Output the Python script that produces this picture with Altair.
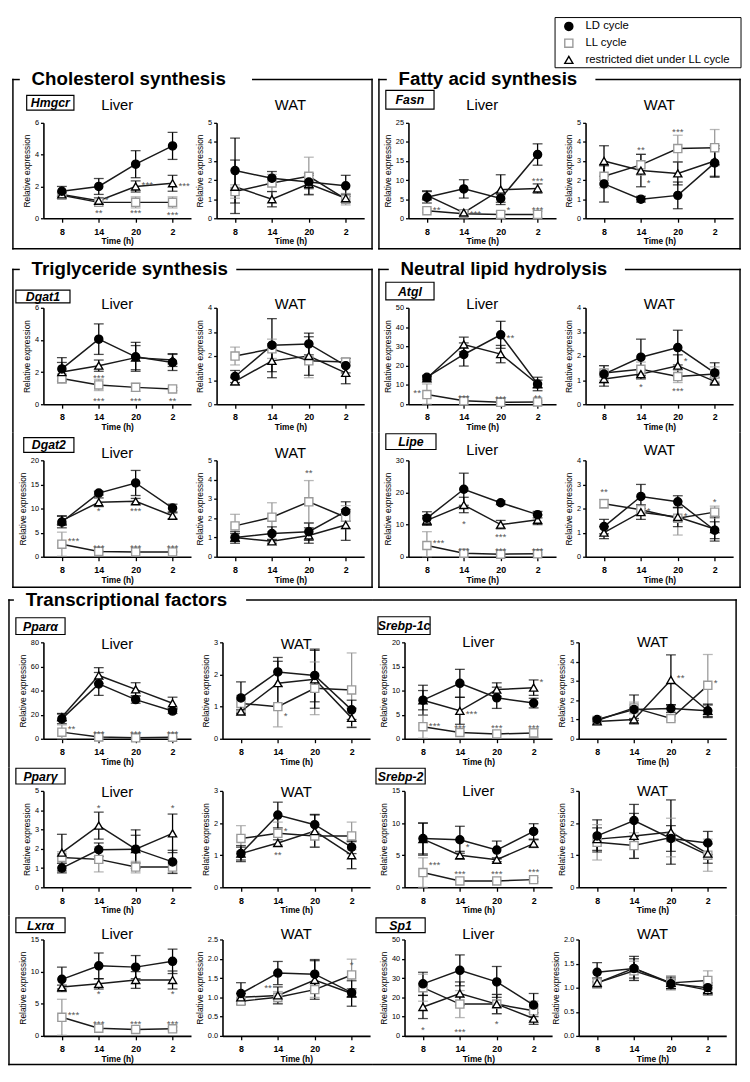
import altair as alt
import pandas as pd

TIMES = ["8", "14", "20", "2"]
SERIES = ["LD cycle", "LL cycle", "restricted diet under LL cycle"]

# ---------------- data (mean and SD per time point) ----------------
HMGCR_LIVER = {"LD": [1.7, 2.0, 3.4, 4.55], "LD_sd": [0.3, 0.5, 0.85, 0.85],
               "LL": [1.45, 1.0, 1.0, 1.0], "LL_sd": [0.1, 0.15, 0.35, 0.35],
               "RD": [1.5, 1.1, 2.0, 2.2], "RD_sd": [0.12, 0.2, 0.35, 0.5]}
HMGCR_LIVER_STARS = [("14", 1.35, "*", "r"), ("14", 0.5, "**", "c"), ("20", 2.25, "***", "r"),
                     ("20", 0.5, "***", "c"), ("2", 2.2, "***", "r"), ("2", 0.4, "***", "c")]
HMGCR_WAT = {"LD": [2.5, 2.1, 1.9, 1.7], "LD_sd": [1.7, 0.35, 0.35, 0.55],
             "LL": [1.4, 1.85, 2.2, 1.0], "LL_sd": [0.35, 0.45, 1.0, 0.3],
             "RD": [1.65, 1.0, 1.8, 1.05], "RD_sd": [1.4, 0.4, 0.55, 0.2]}
HMGCR_WAT_STARS = []

FASN_LIVER = {"LD": [5.5, 7.7, 5.2, 16.7], "LD_sd": [1.5, 2.4, 1.0, 2.8],
              "LL": [2.0, 1.2, 1.0, 1.0], "LL_sd": [0.5, 0.3, 0.8, 0.8],
              "RD": [6.0, 1.5, 7.5, 7.8], "RD_sd": [1.2, 0.3, 3.9, 1.2]}
FASN_LIVER_STARS = [("8", 2.8, "**", "r"), ("14", 1.8, "***", "r"), ("20", 2.8, "*", "r"),
                    ("2", 10.6, "***", "c"), ("2", 2.8, "***", "c")]
FASN_WAT = {"LD": [1.8, 1.0, 1.2, 2.9], "LD_sd": [0.95, 0.15, 0.7, 0.75],
            "LL": [2.2, 2.8, 3.65, 3.7], "LL_sd": [0.6, 0.55, 0.7, 0.95],
            "RD": [3.0, 2.5, 2.35, 3.0], "RD_sd": [0.8, 0.85, 0.6, 0.8]}
FASN_WAT_STARS = [("14", 3.75, "**", "c"), ("14", 2.0, "*", "r"), ("20", 4.65, "***", "c")]

DGAT1_LIVER = {"LD": [2.2, 4.05, 2.95, 2.6], "LD_sd": [0.7, 0.95, 0.9, 0.5],
               "LL": [1.6, 1.2, 1.05, 0.95], "LL_sd": [0.3, 0.35, 0.25, 0.1],
               "RD": [2.0, 2.4, 2.9, 2.75], "RD_sd": [0.6, 0.35, 0.75, 0.4]}
DGAT1_LIVER_STARS = [("14", 1.8, "***", "c"), ("14", 0.4, "***", "c"), ("20", 0.4, "***", "c"),
                     ("2", 0.4, "**", "c")]
DGAT1_WAT = {"LD": [1.15, 2.45, 2.5, 1.6], "LD_sd": [0.25, 1.1, 0.45, 0.3],
             "LL": [2.0, 2.3, 1.8, 1.75], "LL_sd": [0.37, 0.4, 0.7, 0.15],
             "RD": [0.95, 1.8, 2.0, 1.3], "RD_sd": [0.15, 0.7, 0.8, 0.45]}
DGAT1_WAT_STARS = []

DGAT2_LIVER = {"LD": [7.2, 13.2, 15.3, 10.1], "LD_sd": [1.2, 0.4, 2.6, 0.8],
               "LL": [2.6, 1.1, 1.0, 1.0], "LL_sd": [2.5, 0.2, 0.1, 0.1],
               "RD": [7.5, 11.3, 11.5, 8.5], "RD_sd": [1.0, 0.9, 0.6, 0.6]}
DGAT2_LIVER_STARS = [("14", 10.0, "*", "c"), ("20", 10.0, "***", "c"), ("8", 3.9, "***", "r"),
                     ("14", 2.5, "***", "c"), ("20", 2.5, "***", "c"), ("2", 2.5, "***", "c")]
DGAT2_WAT = {"LD": [1.0, 1.2, 1.3, 2.35], "LD_sd": [0.3, 0.35, 0.45, 0.5],
             "LL": [1.6, 2.05, 2.85, 2.05], "LL_sd": [0.6, 0.75, 1.1, 0.6],
             "RD": [1.0, 0.8, 1.1, 1.65], "RD_sd": [0.2, 0.1, 0.4, 0.8]}
DGAT2_WAT_STARS = [("20", 4.5, "**", "c")]

ATGL_LIVER = {"LD": [14.0, 25.8, 36.0, 10.5], "LD_sd": [1.0, 6.0, 7.0, 3.5],
              "LL": [5.0, 1.8, 1.0, 1.2], "LL_sd": [5.5, 0.6, 0.4, 0.5],
              "RD": [13.5, 31.0, 26.0, 10.5], "RD_sd": [1.0, 3.8, 4.5, 2.0]}
ATGL_LIVER_STARS = [("8", 7.5, "**", "l"), ("14", 4.5, "***", "c"), ("20", 4.0, "***", "c"),
                    ("2", 4.5, "**", "c"), ("20", 36.0, "**", "r")]
ATGL_WAT = {"LD": [1.25, 1.95, 2.35, 1.3], "LD_sd": [0.35, 0.75, 0.72, 0.42],
            "LL": [1.3, 1.45, 1.15, 1.25], "LL_sd": [0.3, 0.3, 0.25, 0.3],
            "RD": [1.05, 1.25, 1.6, 0.95], "RD_sd": [0.3, 0.2, 0.45, 0.15]}
ATGL_WAT_STARS = [("14", 0.85, "*", "c"), ("20", 1.9, "*", "r"), ("20", 0.65, "***", "c")]

LIPE_LIVER = {"LD": [12.0, 21.0, 16.8, 13.1], "LD_sd": [2.0, 5.0, 0.6, 1.0],
              "LL": [3.5, 1.1, 0.8, 0.9], "LL_sd": [4.3, 0.4, 0.3, 0.3],
              "RD": [11.3, 16.1, 10.0, 11.5], "RD_sd": [1.5, 2.4, 1.3, 1.5]}
LIPE_LIVER_STARS = [("14", 11.0, "*", "c"), ("20", 7.0, "***", "c"), ("8", 5.2, "***", "r"),
                    ("14", 2.8, "***", "c"), ("20", 2.8, "***", "c"), ("2", 2.8, "***", "c")]
LIPE_WAT = {"LD": [1.25, 2.5, 2.28, 1.1], "LD_sd": [0.3, 0.5, 0.25, 0.35],
            "LL": [2.2, 1.95, 1.6, 1.85], "LL_sd": [0.18, 0.2, 0.7, 0.25],
            "RD": [1.0, 1.85, 1.65, 1.15], "RD_sd": [0.25, 0.3, 0.4, 0.5]}
LIPE_WAT_STARS = [("8", 2.8, "**", "c"), ("14", 2.0, "*", "r"), ("20", 1.8, "*", "r"),
                  ("2", 2.4, "*", "c")]

PPARA_LIVER = {"LD": [16.5, 45.5, 32.5, 23.0], "LD_sd": [4.0, 9.5, 3.0, 2.0],
               "LL": [5.5, 1.5, 0.8, 1.3], "LL_sd": [6.0, 0.5, 0.3, 0.5],
               "RD": [18.0, 52.5, 41.0, 29.5], "RD_sd": [3.0, 6.5, 5.5, 5.0]}
PPARA_LIVER_STARS = [("8", 10.7, "**", "r"), ("14", 6.5, "***", "c"), ("20", 6.5, "***", "c"),
                     ("2", 6.5, "***", "c")]
PPARA_WAT = {"LD": [1.27, 2.08, 1.97, 0.9], "LD_sd": [0.5, 0.45, 0.82, 0.3],
             "LL": [1.1, 1.0, 1.57, 1.52], "LL_sd": [0.25, 0.63, 0.82, 1.15],
             "RD": [0.85, 1.73, 1.85, 0.65], "RD_sd": [0.05, 0.68, 0.9, 0.3]}
PPARA_WAT_STARS = [("14", 0.8, "*", "r")]

SREBP1C_LIVER = {"LD": [8.0, 11.5, 8.5, 7.4], "LD_sd": [3.1, 2.9, 2.2, 1.0],
                 "LL": [2.5, 1.3, 1.0, 1.2], "LL_sd": [2.4, 0.3, 0.2, 0.9],
                 "RD": [8.0, 5.8, 10.2, 10.6], "RD_sd": [2.0, 2.8, 1.4, 1.6]}
SREBP1C_LIVER_STARS = [("14", 5.8, "***", "r"), ("2", 12.3, "*", "r"), ("8", 3.2, "***", "r"),
                       ("14", 2.8, "***", "c"), ("20", 2.8, "***", "c"), ("2", 2.8, "***", "c")]
SREBP1C_WAT = {"LD": [1.0, 1.52, 1.57, 1.45], "LD_sd": [0.1, 0.75, 0.2, 0.3],
               "LL": [0.95, 1.6, 1.05, 2.77], "LL_sd": [0.1, 0.3, 0.1, 1.6],
               "RD": [0.9, 1.0, 3.05, 1.45], "RD_sd": [0.15, 0.05, 1.3, 0.35]}
SREBP1C_WAT_STARS = [("20", 3.3, "**", "r"), ("2", 3.05, "*", "r")]

PPARG_LIVER = {"LD": [1.0, 1.95, 1.98, 1.32], "LD_sd": [0.25, 0.35, 0.72, 0.6],
               "LL": [1.55, 1.45, 1.05, 1.05], "LL_sd": [0.3, 0.65, 0.3, 0.3],
               "RD": [1.8, 3.2, 1.98, 2.8], "RD_sd": [0.95, 0.7, 1.0, 1.0]}
PPARG_LIVER_STARS = [("14", 4.25, "*", "c"), ("2", 4.25, "*", "c")]
PPARG_WAT = {"LD": [1.05, 2.25, 1.95, 1.25], "LD_sd": [0.25, 0.4, 0.32, 0.2],
             "LL": [1.52, 1.68, 1.6, 1.6], "LL_sd": [0.4, 0.35, 0.35, 0.43],
             "RD": [1.05, 1.38, 1.75, 1.0], "RD_sd": [0.2, 0.1, 0.5, 0.42]}
PPARG_WAT_STARS = [("14", 1.85, "*", "r"), ("14", 1.1, "**", "c")]

SREBP2_LIVER = {"LD": [7.6, 7.4, 5.8, 8.7], "LD_sd": [2.4, 2.1, 1.4, 1.2],
                "LL": [2.3, 1.0, 1.0, 1.2], "LL_sd": [2.3, 0.1, 0.1, 0.3],
                "RD": [7.5, 5.0, 4.3, 6.8], "RD_sd": [2.5, 0.6, 0.3, 0.6]}
SREBP2_LIVER_STARS = [("14", 6.7, "*", "r"), ("8", 3.9, "***", "r"), ("14", 2.6, "***", "c"),
                      ("20", 2.6, "***", "c"), ("2", 2.9, "***", "c")]
SREBP2_WAT = {"LD": [1.6, 2.08, 1.52, 1.38], "LD_sd": [0.5, 0.5, 0.4, 0.36],
              "LL": [1.4, 1.3, 1.55, 1.0], "LL_sd": [0.55, 0.4, 0.6, 0.5],
              "RD": [1.5, 1.6, 1.72, 1.05], "RD_sd": [0.35, 0.7, 1.0, 0.3]}
SREBP2_WAT_STARS = []

LXRA_LIVER = {"LD": [8.8, 10.9, 10.7, 11.6], "LD_sd": [1.9, 2.0, 1.8, 1.9],
              "LL": [2.9, 1.2, 1.0, 1.1], "LL_sd": [2.8, 0.2, 0.2, 0.3],
              "RD": [7.6, 8.1, 8.7, 8.7], "RD_sd": [0.3, 0.8, 1.3, 1.4]}
LXRA_LIVER_STARS = [("14", 6.9, "*", "c"), ("2", 6.9, "*", "c"), ("8", 3.7, "***", "r"),
                    ("14", 2.3, "***", "c"), ("20", 2.3, "***", "c"), ("2", 2.3, "***", "c")]
LXRA_WAT = {"LD": [1.1, 1.63, 1.6, 1.12], "LD_sd": [0.28, 0.3, 0.38, 0.1],
            "LL": [0.9, 1.0, 1.2, 1.58], "LL_sd": [0.05, 0.15, 0.2, 0.41],
            "RD": [1.0, 1.05, 1.45, 1.1], "RD_sd": [0.1, 0.22, 0.5, 0.33]}
LXRA_WAT_STARS = [("14", 1.33, "**", "l"), ("2", 1.92, "*", "c")]

SP1_LIVER = {"LD": [27.0, 34.0, 28.0, 16.0], "LD_sd": [6.0, 8.0, 8.0, 6.0],
             "LL": [25.0, 16.5, 16.5, 13.0], "LL_sd": [7.0, 7.0, 5.0, 5.0],
             "RD": [15.0, 22.0, 16.5, 9.0], "RD_sd": [6.0, 6.0, 5.0, 3.0]}
SP1_LIVER_STARS = [("8", 4.5, "*", "c"), ("14", 3.5, "***", "c"), ("20", 7.5, "*", "c")]
SP1_WAT = {"LD": [1.32, 1.4, 1.08, 1.0], "LD_sd": [0.2, 0.25, 0.1, 0.1],
           "LL": [1.1, 1.35, 1.1, 1.15], "LL_sd": [0.1, 0.2, 0.15, 0.2],
           "RD": [1.1, 1.4, 1.1, 0.95], "RD_sd": [0.1, 0.2, 0.12, 0.1]}
SP1_WAT_STARS = []

# y-axis tick values (liver, WAT)
HMGCR_TICKS = ([0, 2, 4, 6], [0, 1, 2, 3, 4, 5])
FASN_TICKS = ([0, 5, 10, 15, 20, 25], [0, 1, 2, 3, 4, 5])
DGAT1_TICKS = ([0, 2, 4, 6], [0, 1, 2, 3, 4])
DGAT2_TICKS = ([0, 5, 10, 15, 20], [0, 1, 2, 3, 4, 5])
ATGL_TICKS = ([0, 10, 20, 30, 40, 50], [0, 1, 2, 3, 4])
LIPE_TICKS = ([0, 10, 20, 30], [0, 1, 2, 3, 4])
PPARA_TICKS = ([0, 20, 40, 60, 80], [0, 1, 2, 3])
SREBP1C_TICKS = ([0, 5, 10, 15, 20], [0, 1, 2, 3, 4, 5])
PPARG_TICKS = ([0, 1, 2, 3, 4, 5], [0, 1, 2, 3])
SREBP2_TICKS = ([0, 5, 10, 15], [0, 1, 2, 3])
LXRA_TICKS = ([0, 5, 10, 15], [0.0, 0.5, 1.0, 1.5, 2.0, 2.5])
SP1_TICKS = ([0, 10, 20, 30, 40, 50], [0.0, 0.5, 1.0, 1.5, 2.0])

GENES = {
    "Hmgcr": (HMGCR_LIVER, HMGCR_LIVER_STARS, HMGCR_WAT, HMGCR_WAT_STARS, HMGCR_TICKS),
    "Fasn": (FASN_LIVER, FASN_LIVER_STARS, FASN_WAT, FASN_WAT_STARS, FASN_TICKS),
    "Dgat1": (DGAT1_LIVER, DGAT1_LIVER_STARS, DGAT1_WAT, DGAT1_WAT_STARS, DGAT1_TICKS),
    "Atgl": (ATGL_LIVER, ATGL_LIVER_STARS, ATGL_WAT, ATGL_WAT_STARS, ATGL_TICKS),
    "Dgat2": (DGAT2_LIVER, DGAT2_LIVER_STARS, DGAT2_WAT, DGAT2_WAT_STARS, DGAT2_TICKS),
    "Lipe": (LIPE_LIVER, LIPE_LIVER_STARS, LIPE_WAT, LIPE_WAT_STARS, LIPE_TICKS),
    "Pparα": (PPARA_LIVER, PPARA_LIVER_STARS, PPARA_WAT, PPARA_WAT_STARS, PPARA_TICKS),
    "Srebp-1c": (SREBP1C_LIVER, SREBP1C_LIVER_STARS, SREBP1C_WAT, SREBP1C_WAT_STARS, SREBP1C_TICKS),
    "Pparγ": (PPARG_LIVER, PPARG_LIVER_STARS, PPARG_WAT, PPARG_WAT_STARS, PPARG_TICKS),
    "Srebp-2": (SREBP2_LIVER, SREBP2_LIVER_STARS, SREBP2_WAT, SREBP2_WAT_STARS, SREBP2_TICKS),
    "Lxrα": (LXRA_LIVER, LXRA_LIVER_STARS, LXRA_WAT, LXRA_WAT_STARS, LXRA_TICKS),
    "Sp1": (SP1_LIVER, SP1_LIVER_STARS, SP1_WAT, SP1_WAT_STARS, SP1_TICKS),
}

# ---------------- layout (pixels) ----------------
GENE_BOX = {  # label box relative to the liver plot origin, and panel-title offset
    "Hmgcr": ((-17, 31, -28, -13), -18), "Fasn": ((-23, 26, -33, -14), -18),
    "Dgat1": ((-28, 27, -18, -5), -4), "Atgl": ((-23, 26, -26, -8), -4),
    "Dgat2": ((-20, 31, -23, -8), -7), "Lipe": ((-23, 28, -27, -11), -10),
    "Pparα": ((-28, 22, -25, -8), 2), "Srebp-1c": ((-27, 26, -26, -8), 0),
    "Pparγ": ((-28, 22, -23, -7), 1), "Srebp-2": ((-29, 21, -23, -7), 0),
    "Lxrα": ((-28, 22, -22, -7), -6), "Sp1": ((-29, 21, -22, -7), -6),
}
FRAMES = {
    "chol": (9, 374, 71, 243, 28, "Cholesterol synthesis", 252),
    "fatty": (381, 748, 71, 243, 401, "Fatty acid synthesis", 601),
    "tri": (9, 374, 264, 587, 28, "Triglyceride synthesis", 236),
    "neutral": (381, 748, 264, 587, 403, "Neutral lipid hydrolysis", 631),
    "tf": (9, 748, 600, 1072, 26, "Transcriptional factors", 250),
}
LEGEND_BOX = (560, 749, 8, 59)      # page pixels
LEGEND_ROWS = (17, 34, 51)
LEGEND_SYMBOL_X, LEGEND_TEXT_X = 574, 591
HALF_L = (8, 378)
HALF_R = (378, 750)
ROWS = [
    ("Hmgcr", "Fasn", 115, 97, (8, 245), (40, 216), (411, 591), ("chol", "fatty")),
    ("Dgat1", "Atgl", 303, 98, (245, 430), (40, 216), (411, 591), ("tri", "neutral")),
    ("Dgat2", "Lipe", 458, 98, (430, 589), (40, 216), (411, 591), ("tri", "neutral")),
    ("Pparα", "Srebp-1c", 643, 98, (589, 770), (44, 226), (411, 588), ("tf", "tf")),
    ("Pparγ", "Srebp-2", 794, 98, (770, 921), (44, 226), (411, 588), ("tf", "tf")),
    ("Lxrα", "Sp1", 945, 98, (921, 1073), (44, 226), (411, 588), ("tf", "tf")),
]
PW = 150
FONT = "Liberation Sans"

ONE = pd.DataFrame({"k": [0]})

SHAPE = alt.Shape("series:N", scale=alt.Scale(domain=SERIES, range=["circle", "square", "triangle-up"]), legend=None)
FILL = alt.Fill("series:N", scale=alt.Scale(domain=SERIES, range=["black", "white", "white"]), legend=None)
STROKE = alt.Stroke("series:N", scale=alt.Scale(domain=SERIES, range=["black", "#9a9a9a", "black"]), legend=None)
COLOR = alt.Color("series:N", scale=alt.Scale(domain=SERIES, range=["black", "#9a9a9a", "black"]), legend=None)

XAXIS = alt.Axis(title="Time (h)", labelAngle=0, labelFontSize=9, labelFontWeight="bold", labelPadding=5,
                 tickSize=4, titleFontSize=8.5, titleFontWeight="bold", titlePadding=1, domainWidth=1.6,
                 tickWidth=1.3, grid=False, domainColor="black", tickColor="black")


def rect_layer(x1, x2, y1, y2, **kw):
    return alt.Chart(ONE).mark_rect(**kw).encode(
        x=alt.value(x1), x2=alt.value(x2), y=alt.value(y1), y2=alt.value(y2))


def text_layer(x, y, text, **kw):
    return alt.Chart(ONE).mark_text(**kw).encode(x=alt.value(x), y=alt.value(y), text=alt.value(text))


def make_df(d):
    rows = []
    for key, name in (("LL", SERIES[1]), ("RD", SERIES[2]), ("LD", SERIES[0])):
        for i, t in enumerate(TIMES):
            m, e = d[key][i], d[key + "_sd"][i]
            rows.append({"series": name, "time": t, "idx": i, "mean": m,
                         "lo": max(m - e, 0.0), "hi": m + e})
    return pd.DataFrame(rows)


def panel(d, stars, ticks, height, tissue, tdy, extra=()):
    df = make_df(d)
    fmt = ".1f" if any(float(t) != int(t) for t in ticks) else "d"
    X = alt.X("time:O", scale=alt.Scale(type="point", domain=TIMES, padding=0.5), axis=XAXIS)
    ysc = alt.Scale(domain=[0, ticks[-1]], nice=False, zero=True)
    yax = alt.Axis(values=ticks, format=fmt, title="Relative expression", titleFontSize=8.5,
                   titleFontWeight="normal", titlePadding=3, labelFontSize=7.5, labelPadding=2,
                   tickSize=3, domainWidth=1.6, tickWidth=1.3, grid=False,
                   domainColor="black", tickColor="black")

    def Y(f):
        return alt.Y(f + ":Q", scale=ysc, axis=yax)

    base = alt.Chart(df)
    layers = list(extra)
    layers.append(base.mark_rule(strokeWidth=1.3).encode(x=X, y=Y("lo"), y2=alt.Y2("hi"), stroke=STROKE))
    layers.append(base.mark_tick(size=10, thickness=1.3).encode(x=X, y=Y("lo"), color=COLOR))
    layers.append(base.mark_tick(size=10, thickness=1.3).encode(x=X, y=Y("hi"), color=COLOR))
    layers.append(base.mark_line(color="#1a1a1a", strokeWidth=1.5).encode(
        x=X, y=Y("mean"), detail="series:N", order="idx:Q"))
    layers.append(base.mark_point(filled=True, size=68, strokeWidth=1.4, opacity=1).encode(
        x=X, y=Y("mean"), shape=SHAPE, fill=FILL, stroke=STROKE))
    sdf = pd.DataFrame(stars, columns=["time", "value", "label", "pos"])
    for pos, align, dx in (("c", "center", 0), ("r", "left", 6), ("l", "right", -6)):
        sub = sdf[sdf["pos"] == pos]
        if len(sub):
            layers.append(alt.Chart(sub).mark_text(align=align, dx=dx, dy=3, fontSize=10, color="#555").encode(
                x=X, y=Y("value"), text="label:N"))
    layers.append(text_layer(PW / 2, tdy, tissue, fontSize=15, align="center", baseline="middle", color="black"))
    return alt.layer(*layers).properties(width=PW, height=height)


def frame_layers(key, ox, oy, hx, ty):
    fx1, fx2, fy1, fy2, tx, title, seg = FRAMES[key]
    hx1, hx2 = hx
    ty1, ty2 = ty
    out = []
    w = 0.75

    def hseg(a, b, y):
        a2, b2 = max(a, hx1), min(b, hx2)
        if a2 < b2 and ty1 <= y <= ty2:
            out.append(rect_layer(a2 - ox, b2 - ox, y - w - oy, y + w - oy, color="black"))

    hseg(fx1 - w, tx - 12, fy1)
    hseg(seg, fx2 + w, fy1)
    hseg(fx1 - w, fx2 + w, fy2)
    for x in (fx1, fx2):
        if hx1 <= x <= hx2:
            a, b = max(fy1 - w, ty1), min(fy2 + w, ty2)
            if a < b:
                out.append(rect_layer(x - w - ox, x + w - ox, a - oy, b - oy, color="black"))
    if ty1 <= fy1 <= ty2 and hx1 <= tx < hx2:
        out.append(text_layer(tx - ox, fy1 - oy, title, fontSize=19, fontWeight="bold",
                              align="left", baseline="middle", color="black"))
    return out


def legend_layers(ox, oy):
    x1, x2, y1, y2 = LEGEND_BOX
    out = [rect_layer(x1 - ox, x2 - ox, y1 - oy, y2 - oy, fill="white", stroke="black", strokeWidth=1)]
    for name, y in zip(SERIES, LEGEND_ROWS):
        one = pd.DataFrame({"series": [name]})
        out.append(alt.Chart(one).mark_point(filled=True, size=68, strokeWidth=1.4, opacity=1).encode(
            x=alt.value(LEGEND_SYMBOL_X - ox), y=alt.value(y - oy), shape=SHAPE, fill=FILL, stroke=STROKE))
        out.append(text_layer(LEGEND_TEXT_X - ox, y - oy, name, fontSize=11.5, align="left",
                              baseline="middle", color="black"))
    return out


def half(gene, oy, height, ty, xs, hx, frame_key, with_legend=False):
    lx, wx = xs
    liver, lstars, wat, wstars, (lt, wt) = GENES[gene]
    (bx1, bx2, by1, by2), tdy = GENE_BOX[gene]
    deco = [rect_layer(hx[0] - lx, hx[1] - lx, ty[0] - oy, ty[1] - oy, opacity=0)]
    deco += frame_layers(frame_key, lx, oy, hx, ty)
    if with_legend:
        deco += legend_layers(lx, oy)
    deco.append(rect_layer(bx1, bx2, by1, by2, fill="white", stroke="black", strokeWidth=1.2))
    deco.append(text_layer((bx1 + bx2) / 2, (by1 + by2) / 2 + 0.5, gene, fontSize=12.5, fontStyle="italic",
                           fontWeight="bold", align="center", baseline="middle", color="black"))
    left = panel(liver, lstars, lt, height, "Liver", tdy, deco)
    right = panel(wat, wstars, wt, height, "WAT", tdy)
    return alt.hconcat(left, right, spacing=(wx - lx - PW), bounds="flush")


rows = []
for n, (lg, rg, oy, h, ty, xl, xr, (fl, fr)) in enumerate(ROWS):
    rows.append(alt.hconcat(half(lg, oy, h, ty, xl, HALF_L, fl),
                            half(rg, oy, h, ty, xr, HALF_R, fr, with_legend=(n == 0)), spacing=0))

chart = alt.vconcat(*rows, spacing=0).properties(padding=0).configure(
    font=FONT
).configure_view(stroke=None)

chart.save("out.html", embed_options={"renderer": "svg", "actions": False})
